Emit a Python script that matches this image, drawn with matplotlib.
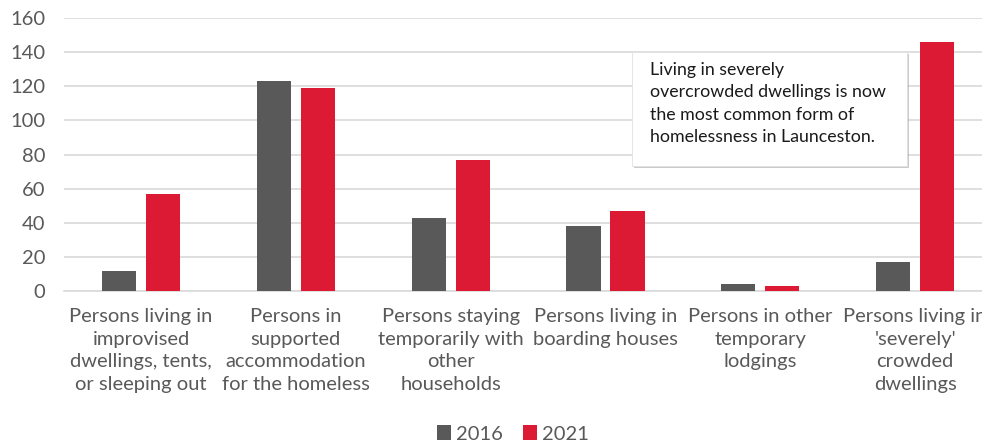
import matplotlib
matplotlib.use("Agg")
import matplotlib.pyplot as plt
import matplotlib.patches as mpatches
import matplotlib.patheffects as pe
import numpy as np

categories = [
    "Persons living in\nimprovised\ndwellings, tents,\nor sleeping out",
    "Persons in\nsupported\naccommodation\nfor the homeless",
    "Persons staying\ntemporarily with\nother\nhouseholds",
    "Persons living in\nboarding houses",
    "Persons in other\ntemporary\nlodgings",
    "Persons living in\n'severely'\ncrowded\ndwellings",
]
series_names = ["2016", "2021"]
values_2016 = [12, 123, 43, 38, 4, 17]
values_2021 = [57, 119, 77, 47, 3, 146]
yticks = [0, 20, 40, 60, 80, 100, 120, 140, 160]
note = ("Living in severely\novercrowded dwellings is now\n"
        "the most common form of\nhomelessness in Launceston.")

plt.rcParams['font.family'] = ['Lato', 'DejaVu Sans']
TXT = '#595959'
GRAY = '#595959'
RED = '#DC1A33'

fig = plt.figure(figsize=(9.82, 4.45), dpi=100)
ax = fig.add_axes([63.6 / 982, (445 - 291) / 445, 929 / 982, 273 / 445])

x = np.arange(len(categories))
w = 0.22
off = 0.142
ax.bar(x - off, values_2016, width=w, color=GRAY, label=series_names[0], zorder=3)
ax.bar(x + off, values_2021, width=w, color=RED, label=series_names[1], zorder=3)

ax.set_xlim(-0.5, len(categories) - 0.5)
ax.set_ylim(0, 160)
ax.set_yticks(yticks)
ax.yaxis.grid(True, color='#D9D9D9', linewidth=1.2, zorder=0)
ax.set_axisbelow(True)
for s in ['top', 'right', 'left']:
    ax.spines[s].set_visible(False)
ax.spines['bottom'].set_color('#D9D9D9')
ax.spines['bottom'].set_linewidth(1.2)
ax.tick_params(axis='y', length=0, pad=13, labelsize=14.5, labelcolor=TXT)
ax.tick_params(axis='x', length=0, pad=12, labelsize=14.5, labelcolor=TXT)
ax.set_xticks(x)
ax.set_xticklabels(categories, linespacing=1.42)

leg = fig.legend(loc='center', bbox_to_anchor=(513 / 982, 1 - 434 / 445), ncol=2,
                 frameon=False, fontsize=14.5, handlelength=0.7, handleheight=0.7,
                 handletextpad=0.25, columnspacing=1.0, labelcolor=TXT)

# annotation box
box = mpatches.Rectangle((632 / 982, 1 - 166 / 445), 275 / 982, 114 / 445,
                         transform=fig.transFigure, facecolor='white',
                         edgecolor='#E0E0E0', linewidth=0.6, zorder=5,
                         path_effects=[pe.SimplePatchShadow(offset=(1.5, -1.5), shadow_rgbFace='#999999', alpha=0.5), pe.Normal()])
fig.patches.append(box)
fig.text(650 / 982, 1 - 62 / 445, note, ha='left', va='top', fontsize=12.8,
         color='#1a1a1a', linespacing=1.5, zorder=6)

fig.savefig("out.png", dpi=100)
